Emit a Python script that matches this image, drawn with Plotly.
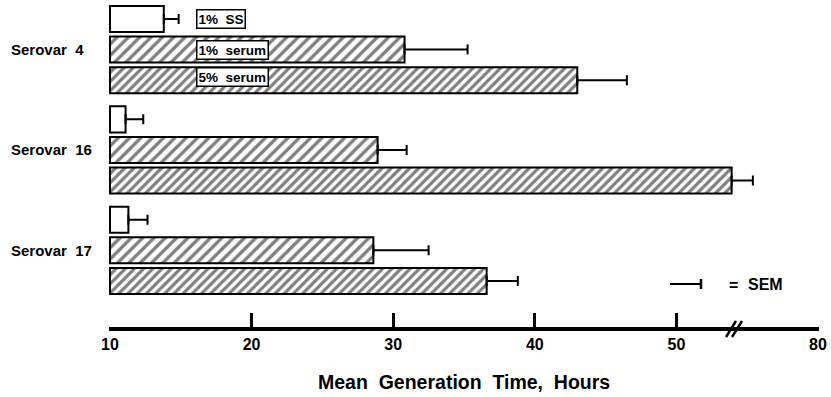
import plotly.graph_objects as go

# ---- data ----
serovars = ["Serovar  4", "Serovar  16", "Serovar  17"]
conditions = ["1%  SS", "1%  serum", "5%  serum"]
mean_ss = [13.8, 11.1, 11.3]
mean_1serum = [30.8, 28.9, 28.6]
mean_5serum = [43.0, 53.9, 36.6]
sem_ss = [1.05, 1.25, 1.35]
sem_1serum = [4.45, 2.05, 3.9]
sem_5serum = [3.5, 1.5, 2.2]
tick_positions = [10, 20, 30, 40, 50, 60]
tick_labels = ["10", "20", "30", "40", "50", "80"]

AXIS_START = 10
GROUP_GAP = 3.28
BAR_W = 0.85
FONT = "Liberation Sans, Arial, Helvetica, sans-serif"

means = [mean_ss, mean_1serum, mean_5serum]
sems = [sem_ss, sem_1serum, sem_5serum]
styles = [
    dict(color="white", pattern=None),
    dict(color="white", pattern=dict(shape="/", fgcolor="black", bgcolor="white", size=8, solidity=0.42)),
    dict(color="white", pattern=dict(shape="/", fgcolor="black", bgcolor="white", size=6.5, solidity=0.48)),
]

fig = go.Figure()
for c in range(len(conditions)):
    ys = [g * GROUP_GAP + c for g in range(len(serovars))]
    marker = dict(color=styles[c]["color"], line=dict(color="black", width=2))
    if styles[c]["pattern"]:
        marker["pattern"] = styles[c]["pattern"]
    fig.add_trace(go.Bar(
        orientation="h",
        y=ys,
        x=[m - AXIS_START for m in means[c]],
        base=[AXIS_START] * len(serovars),
        width=BAR_W,
        marker=marker,
        name=conditions[c],
        showlegend=False,
        cliponaxis=False,
    ))
    fig.add_trace(go.Scatter(
        x=means[c],
        y=ys,
        mode="markers",
        marker=dict(size=2, color="rgba(0,0,0,0)"),
        error_x=dict(type="data", symmetric=False, array=sems[c],
                     arrayminus=[0] * len(serovars), color="black",
                     thickness=2, width=5),
        showlegend=False,
        cliponaxis=False,
    ))

annotations = []
# serovar labels
for g, name in enumerate(serovars):
    annotations.append(dict(
        x=-0.1405, xref="paper", xanchor="left",
        y=g * GROUP_GAP + 1, yref="y", yanchor="middle",
        text=name, showarrow=False,
        font=dict(family=FONT, size=15, color="black", weight="bold"),
    ))
# condition labels in boxes on the first group
yshifts = [0, 0, 3]
for c, name in enumerate(conditions):
    annotations.append(dict(
        x=16.07, xref="x", xanchor="left",
        y=c, yref="y", yanchor="middle", yshift=yshifts[c],
        text=name, showarrow=False,
        bgcolor="white", bordercolor="black", borderwidth=1.5, borderpad=1,
        font=dict(family=FONT, size=13.5, color="black", weight="bold"),
    ))
# SEM key text
annotations.append(dict(
    x=(733 - 109) / 710, xref="paper", xanchor="center",
    y=(327 - 285) / 327, yref="paper", yanchor="middle",
    text="=", showarrow=False,
    font=dict(family=FONT, size=16, color="black", weight="bold"),
))
annotations.append(dict(
    x=(746 - 109) / 710, xref="paper", xanchor="left",
    y=(327 - 284) / 327, yref="paper", yanchor="middle",
    text="SEM", showarrow=False,
    font=dict(family=FONT, size=16, color="black", weight="bold"),
))
# axis title
annotations.append(dict(
    x=0.5, xref="paper", xanchor="center",
    y=(327 - 382) / 327, yref="paper", yanchor="middle",
    text="Mean  Generation  Time,  Hours", showarrow=False,
    font=dict(family=FONT, size=19.5, color="black", weight="bold"),
))

def px_x(p):
    return (p - 109) / 710

def px_y(p):
    return (327 - p) / 327

shapes = [
    # SEM key
    dict(type="line", xref="paper", yref="paper",
         x0=px_x(670), x1=px_x(701), y0=px_y(284), y1=px_y(284),
         line=dict(color="black", width=2)),
    dict(type="line", xref="paper", yref="paper",
         x0=px_x(701), x1=px_x(701), y0=px_y(279), y1=px_y(289),
         line=dict(color="black", width=2.5)),
    # axis break marks
    dict(type="line", xref="paper", yref="paper",
         x0=px_x(726), x1=px_x(736), y0=px_y(337), y1=px_y(321),
         line=dict(color="black", width=2.5)),
    dict(type="line", xref="paper", yref="paper",
         x0=px_x(732), x1=px_x(742), y0=px_y(337), y1=px_y(321),
         line=dict(color="black", width=2.5)),
]

fig.update_layout(
    width=831, height=397,
    margin=dict(l=109, r=12, t=0, b=70),
    paper_bgcolor="white", plot_bgcolor="white",
    barmode="overlay",
    showlegend=False,
    annotations=annotations,
    shapes=shapes,
    font=dict(family=FONT, color="black"),
    xaxis=dict(
        range=[9.93, 60.07],
        tickvals=tick_positions, ticktext=tick_labels,
        ticks="inside", ticklen=14, tickwidth=2.5, tickcolor="black",
        showline=True, linecolor="black", linewidth=3.5,
        showgrid=False, zeroline=False,
        tickfont=dict(family=FONT, size=16, color="black", weight="bold"),
    ),
    yaxis=dict(
        range=[10.065, -0.621],
        visible=False, showgrid=False, zeroline=False,
    ),
)

fig.write_html("out.html")
